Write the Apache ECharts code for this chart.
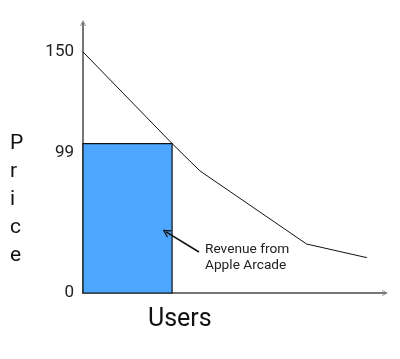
<!DOCTYPE html>
<html><head><meta charset="utf-8">
<script src="https://cdn.jsdelivr.net/npm/echarts@6/dist/echarts.min.js"></script>
<style>html,body{margin:0;padding:0;background:#fff}#c{width:400px;height:359px}</style>
</head><body><div id="c"></div>
<script>
// Demand curve (users vs price)
const demandUsers = [0, 29.5, 38.7, 74, 94];
const demandPrice = [150, 93, 76, 30.5, 22];
// Revenue rectangle
const revenueUsers = 29.5;
const revenuePrice = 93;
// Tick values and their labels
const tickValues = [0, 93, 150];
const tickLabels = ['0', '99', '150'];
// Annotation
const annotationText = ['Revenue from', 'Apple Arcade'];
const arrowFrom = [38.4, 25.5];
const arrowTo = [27.5, 38];
const annotationAt = [40.4, 22];
const xName = 'Users';
const yName = 'Price';

const chevron = 'path://M0,10 L5,0 L10,10 L8.6,10 L5,2.8 L1.4,10 Z';
const chart = echarts.init(document.getElementById('c'), null, {renderer: 'canvas'});
chart.setOption({
  animation: false,
  grid: {left: 83, right: 15, top: 23, bottom: 66},
  xAxis: {
    type: 'value', min: 0, max: 100,
    axisLine: {show: true, lineStyle: {color: '#777', width: 2}, symbol: ['none', chevron], symbolSize: [7, 6]},
    axisTick: {show: false}, axisLabel: {show: false}, splitLine: {show: false}
  },
  yAxis: {
    type: 'value', min: 0, max: 168,
    axisLine: {show: true, lineStyle: {color: '#777', width: 2}, symbol: ['none', chevron], symbolSize: [7, 6]},
    axisTick: {show: false}, splitLine: {show: false},
    axisLabel: {
      show: true, customValues: tickValues, margin: 9,
      color: '#222', fontSize: 17, fontFamily: 'Roboto',
      formatter: function (v) {
        const i = tickValues.indexOf(v);
        const t = i >= 0 ? tickLabels[i] : '';
        return t === '99' ? '{low|' + t + '}' : t;
      },
      rich: {low: {color: '#222', fontSize: 17, fontFamily: 'Roboto', padding: [18, 0, 0, 0]}}
    }
  },
  graphic: [
    {type: 'text', left: 10, top: 130, style: {text: yName.split('').join('\n'), font: '21px Roboto', fill: '#111', lineHeight: 28, align: 'left'}},
    {type: 'text', left: 148, top: 307, style: {text: xName, font: '25px Roboto', fill: '#111'}}
  ],
  series: [{
    type: 'line',
    data: demandUsers.map((u, i) => [u, demandPrice[i]]),
    symbol: 'none',
    lineStyle: {color: '#111', width: 1},
    z: 5,
    markArea: {
      silent: true,
      itemStyle: {color: '#4DA6FF', borderColor: '#111', borderWidth: 1.2},
      data: [[{coord: [0, 0]}, {coord: [revenueUsers, revenuePrice]}]]
    },
    markLine: {
      silent: true, symbol: ['none', 'path://M0,10 L5,0 L10,10 L8.4,10 L5,3.2 L1.6,10 Z'], symbolSize: [9, 8],
      lineStyle: {color: '#111', width: 1.6, type: 'solid'},
      label: {show: false},
      data: [[{coord: arrowFrom}, {coord: arrowTo}]]
    },
    markPoint: {
      silent: true, symbol: 'circle', symbolSize: 0,
      label: {show: true, position: 'right', distance: 0, formatter: annotationText.join('\n'), color: '#222', fontSize: 13.7, fontFamily: 'Roboto', lineHeight: 16.5, align: 'left'},
      data: [{coord: annotationAt}]
    }
  }]
});
</script></body></html>
